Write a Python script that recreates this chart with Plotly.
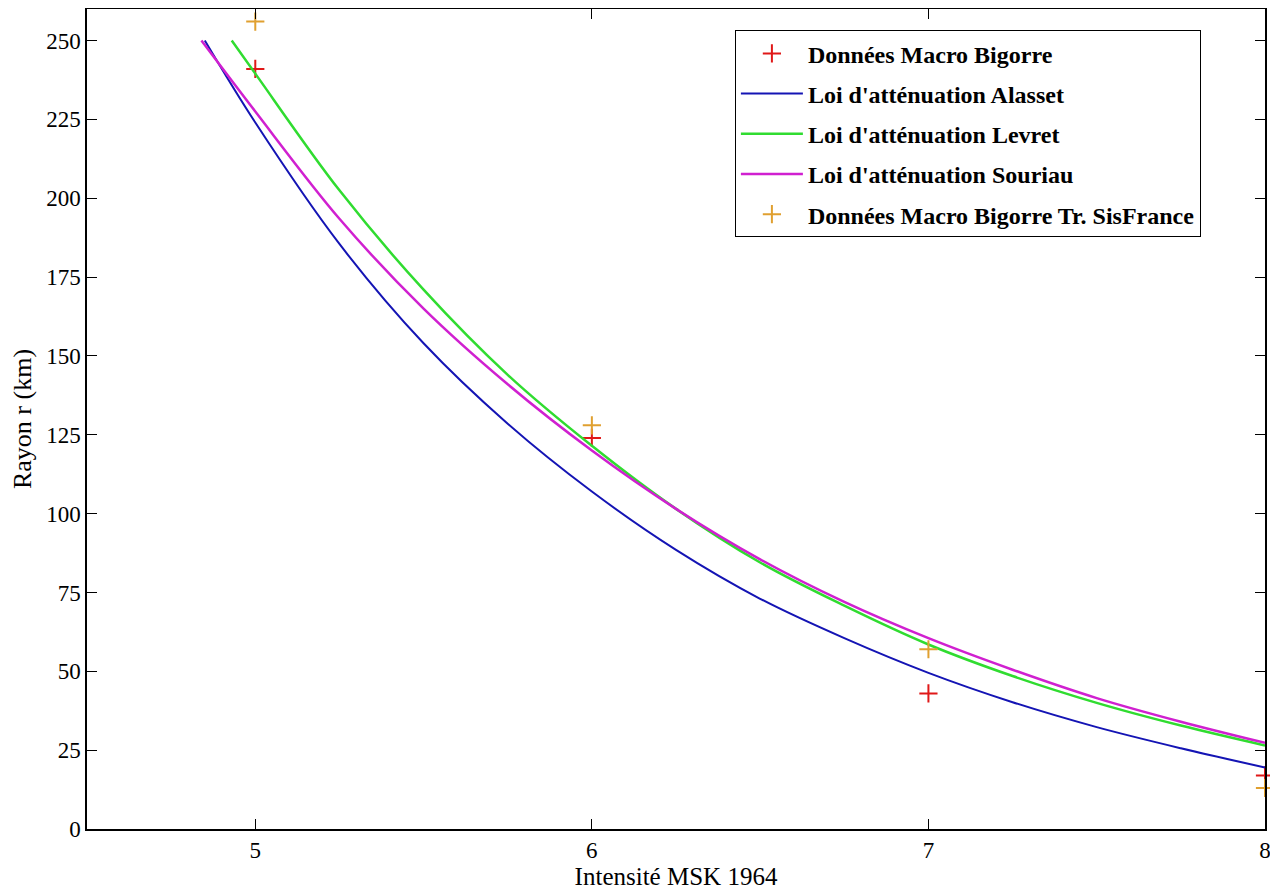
import plotly.graph_objects as go

# Observed macroseismic data
data_I = [5, 6, 7, 8]
bigorre_r = [241, 124, 43, 17]
sisfrance_r = [256, 128, 57, 13]

# Attenuation laws
alasset_I = [4.85, 5.0, 5.25, 5.5, 5.75, 6.0, 6.25, 6.5, 6.75, 7.0, 7.25, 7.5, 7.75, 8.0]
alasset_r = [250, 224, 185.5, 154, 128.5, 107, 88.5, 73, 60.5, 49.5, 40.2, 32.3, 25.6, 19.5]

levret_I = [4.93, 5.0, 5.25, 5.5, 5.75, 6.0, 6.25, 6.5, 6.75, 7.0, 7.25, 7.5, 7.75, 8.0]
levret_r = [250, 239.5, 202.5, 171, 144, 121.5, 101.5, 84.5, 70.8, 58.5, 48.5, 40, 32.8, 26.5]

souriau_I = [4.84, 5.0, 5.25, 5.5, 5.75, 6.0, 6.25, 6.5, 6.75, 7.0, 7.25, 7.5, 7.75, 8.0]
souriau_r = [250, 227.5, 193.5, 165, 141, 120, 101.5, 85.5, 72, 60.5, 50.5, 41.5, 34, 27.3]

x_ticks = [5, 6, 7, 8]
y_ticks = [0, 25, 50, 75, 100, 125, 150, 175, 200, 225, 250]

FONT = "Liberation Serif"

fig = go.Figure()
fig.add_trace(go.Scatter(
    x=data_I, y=bigorre_r, mode="markers", name="Données Macro Bigorre",
    marker=dict(symbol="cross-thin", size=13, line=dict(width=2, color="#e01818")),
    cliponaxis=False, legendgroup="a"))
fig.add_trace(go.Scatter(
    x=alasset_I, y=alasset_r, mode="lines", name="Loi d'atténuation Alasset",
    line=dict(color="#1414b4", width=2, shape="spline"), legendgroup="b"))
fig.add_trace(go.Scatter(
    x=levret_I, y=levret_r, mode="lines", name="Loi d'atténuation Levret",
    line=dict(color="#30dc30", width=2.5, shape="spline"), legendgroup="c"))
fig.add_trace(go.Scatter(
    x=souriau_I, y=souriau_r, mode="lines", name="Loi d'atténuation Souriau",
    line=dict(color="#d020d0", width=2.5, shape="spline"), legendgroup="d"))
fig.add_trace(go.Scatter(
    x=data_I, y=sisfrance_r, mode="markers", name="Données Macro Bigorre Tr. SisFrance",
    marker=dict(symbol="cross-thin", size=13, line=dict(width=2, color="#e0a030")),
    cliponaxis=False, legendgroup="e"))

axis_common = dict(
    showline=True, linecolor="black", linewidth=1.5, mirror="ticks",
    ticks="inside", ticklen=10, tickcolor="black", tickwidth=1,
    showgrid=False, zeroline=False, automargin=False,
    tickfont=dict(family=FONT, size=23, color="black"),
)

# page body has an 8px margin, so the figure is offset by (8, 8)
fig.update_layout(
    width=1270, height=882,
    paper_bgcolor="white", plot_bgcolor="white",
    margin=dict(l=79, r=13, t=1, b=61),
    font=dict(family=FONT, color="black"),
    showlegend=True,
    legend=dict(
        x=0.550, xanchor="left", y=0.974, yanchor="top",
        bgcolor="white", bordercolor="black", borderwidth=1,
        font=dict(family=FONT, size=24, color="black", weight="bold"),
        tracegroupgap=6, itemwidth=62,
    ),
    xaxis=dict(range=[4.5, 8], tickvals=x_ticks,
               title=dict(text="Intensité MSK 1964", standoff=5,
                          font=dict(family=FONT, size=25, color="black")),
               **axis_common),
    yaxis=dict(range=[0, 260], tickvals=y_ticks,
               title=dict(text="Rayon r (km)", standoff=10,
                          font=dict(family=FONT, size=26, color="black")),
               **axis_common),
)

fig.write_html("out.html")
